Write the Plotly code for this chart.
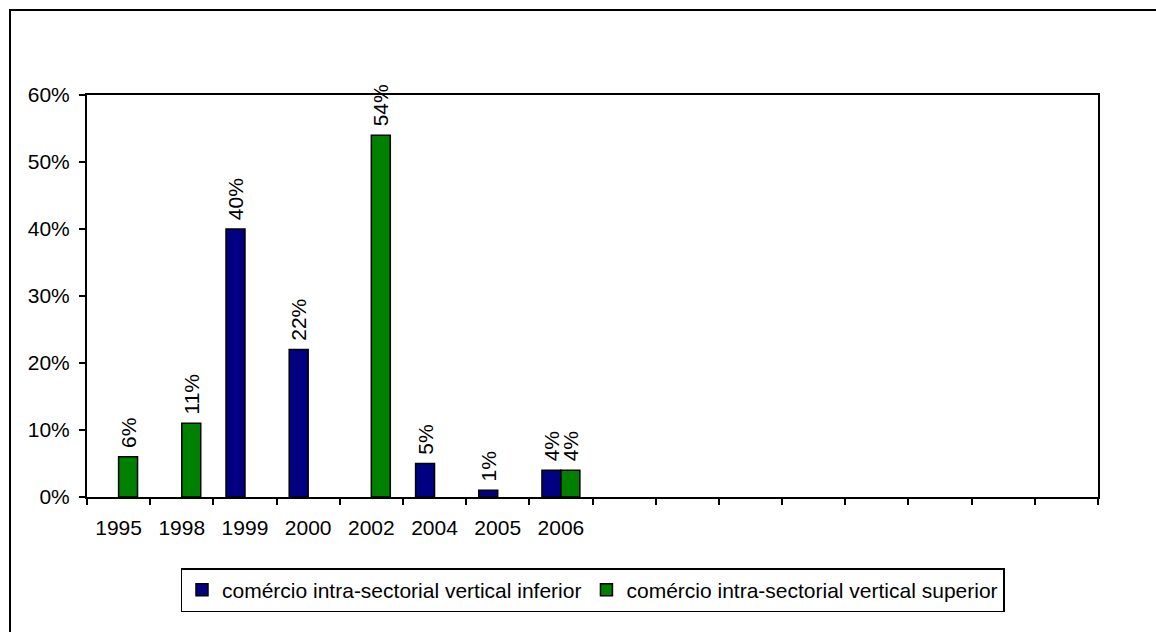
import plotly.graph_objects as go

# Years shown on the category axis, followed by empty slots
years = ["1995", "1998", "1999", "2000", "2002", "2004", "2005", "2006"]
empty_slots = [" " * (i + 1) for i in range(8)]
categories = years + empty_slots

# Shares of intra-industry trade per year (None = no value)
inferior = [None, None, 0.40, 0.22, None, 0.05, 0.01, 0.04]
superior = [0.06, 0.11, None, None, 0.54, None, None, 0.04]

series_names = [
    "comércio intra-sectorial vertical inferior",
    "comércio intra-sectorial vertical superior",
]
series_colors = ["#000080", "#008000"]

W, H = 1156, 632
L, R, T, B = 87, 58, 95, 135
plot_w = W - L - R
plot_h = H - T - B

FONT = dict(family="Liberation Sans, Arial, sans-serif", size=21, color="black")

fig = go.Figure()
for name, vals, col in zip(series_names, [inferior, superior], series_colors):
    fig.add_trace(go.Bar(
        x=years,
        y=vals,
        name=name,
        marker=dict(color=col, line=dict(color="black", width=1.5)),
        texttemplate="\u00a0%{y:.0%}",
        textposition="outside",
        textangle=-90,
        textfont=FONT,
        constraintext="none",
        cliponaxis=False,
    ))

def px_to_paper_x(px):
    return (px - L) / plot_w

def px_to_paper_y(py):
    return (H - B - py) / plot_h

fig.update_layout(
    width=W,
    height=H,
    margin=dict(l=L, r=R, t=T, b=B, pad=0),
    paper_bgcolor="white",
    plot_bgcolor="white",
    font=FONT,
    barmode="group",
    bargap=0.4,
    bargroupgap=0,
    showlegend=True,
    legend=dict(
        orientation="h",
        x=0.5,
        xanchor="center",
        y=px_to_paper_y(568),
        yanchor="top",
        bordercolor="black",
        borderwidth=1.5,
        font=FONT,
        itemwidth=30,
        traceorder="normal",
    ),
    xaxis=dict(
        type="category",
        categoryorder="array",
        categoryarray=categories,
        range=[-0.5, len(categories) - 0.5],
        tickson="boundaries",
        ticks="outside",
        ticklen=6,
        tickwidth=1.5,
        tickcolor="black",
        showline=True,
        linecolor="black",
        linewidth=2,
        mirror=True,
        showgrid=False,
        zeroline=False,
        ticklabelstandoff=11,
        tickfont=FONT,
    ),
    yaxis=dict(
        range=[0, 0.6],
        dtick=0.1,
        tick0=0,
        tickformat=".0%",
        ticks="outside",
        ticklen=6,
        tickwidth=1.5,
        tickcolor="black",
        showline=True,
        linecolor="black",
        linewidth=2,
        mirror=True,
        showgrid=False,
        zeroline=False,
        ticklabelstandoff=5,
        tickfont=FONT,
    ),
    shapes=[
        # outer chart frame
        dict(
            type="rect",
            xref="paper", yref="paper",
            x0=px_to_paper_x(10), x1=px_to_paper_x(W + 20),
            y0=px_to_paper_y(H + 20), y1=px_to_paper_y(10),
            line=dict(color="black", width=2),
            fillcolor="rgba(0,0,0,0)",
            layer="below",
        )
    ],
)

fig.write_html("out.html")
